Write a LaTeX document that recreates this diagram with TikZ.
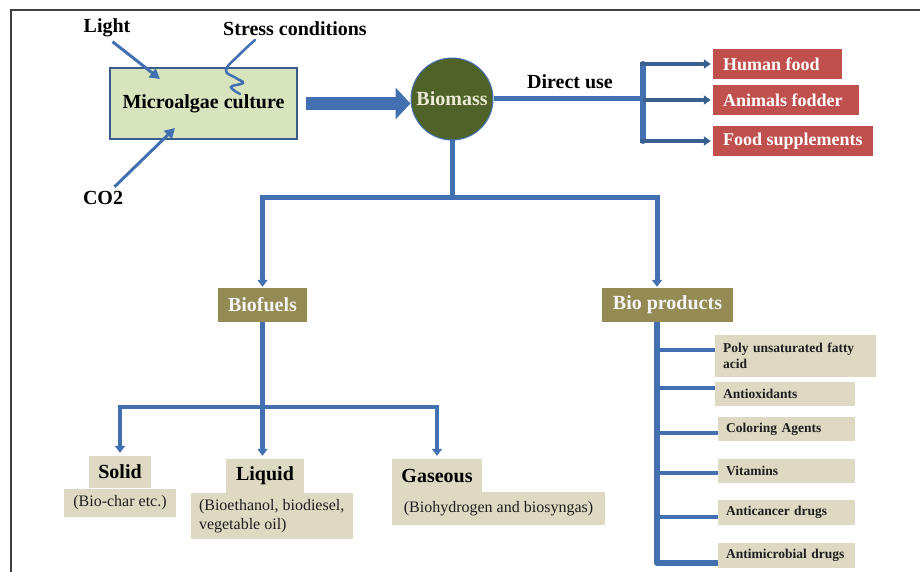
\documentclass[tikz,border=0pt]{standalone}
\usepackage{fontspec}
\setmainfont{Liberation Serif}
\usetikzlibrary{arrows.meta,calc}
\definecolor{lineblue}{RGB}{66,112,176}
\definecolor{darkblue}{RGB}{56,93,138}
\definecolor{mgreen}{RGB}{215,228,189}
\definecolor{bgreen}{RGB}{79,98,40}
\definecolor{cream}{RGB}{236,234,214}
\definecolor{rbox}{RGB}{192,80,77}
\definecolor{obox}{RGB}{148,138,84}
\definecolor{tbox}{RGB}{221,217,195}
\definecolor{framec}{RGB}{64,64,64}
\definecolor{txt}{RGB}{30,30,30}
\newcommand\myfs[2]{\fontsize{#1}{#2}\selectfont}
\newcommand\lbox[2]{\makebox[#1][l]{#2}}
\begin{document}
\begin{tikzpicture}[x=1pt,y=-1pt,
  lbl/.style={font=\bfseries\myfs{20}{22}, inner sep=0pt, text=black},
  redbox/.style={fill=rbox, text=white, font=\bfseries\myfs{18}{20}, inner xsep=10pt, inner ysep=0pt, minimum height=30pt},
  olivebox/.style={fill=obox, text=white!96!black, font=\bfseries\myfs{20}{22}, inner sep=0pt, minimum height=34pt},
  tanbox/.style={fill=tbox, inner ysep=0pt, text=txt},
  listbox/.style={fill=tbox, inner ysep=0pt, inner xsep=8pt, align=left, text=txt, font=\bfseries\myfs{13.5}{16}},
  thinarrow/.style={draw=lineblue, line width=3pt, -{Triangle[width=11pt,length=10pt]}},
  tree/.style={draw=lineblue, line width=5pt, line join=miter},
  tri/.tip={Triangle[width=10pt,length=7pt]},
  branch/.style={draw=darkblue!90!lineblue, line width=3.5pt, -{Triangle[width=9pt,length=7pt]}},
  pbranch/.style={draw=lineblue, line width=4pt}
]
\useasboundingbox (0,0) rectangle (920,572);
% frame
\draw[framec, line width=1.5pt] (11,572) -- (11,10) -- (920,10);

% top-left inputs
\node[lbl] (light) at (107,28) {Light};
\node[lbl] (stress) at (295,29) {Stress conditions};
\node[lbl] (co2) at (103,198) {CO2};
\node[draw=darkblue, line width=1.5pt, fill=mgreen, minimum width=187pt, minimum height=71pt,
      font=\bfseries\myfs{20}{22}, inner sep=0pt] (micro) at (203.5,103.5) {Microalgae culture};

\coordinate (lightend) at (160,79);
\coordinate (co2end) at (175,128);
\draw[thinarrow, shorten <=7pt] (light.south) -- (lightend);
\draw[thinarrow, shorten <=6pt] (co2) -- (co2end);
\draw[lineblue, line width=2.5pt, line cap=round]
  plot[smooth, tension=0.7] coordinates {(255,40) (240,54) (226,70) (236,78) (243,83) (231,87) (240,94)};

% biomass
\node[circle, fill=bgreen, draw=lineblue, line width=1pt, minimum size=82pt, inner sep=0pt,
      text=cream, font=\bfseries\myfs{20}{22}] (biomass) at (452,99) {Biomass};
\draw[lineblue, line width=13pt, -{Triangle[width=31pt,length=15pt]}]
  ([xshift=8pt]micro.east) -- (biomass.west |- micro.east);

% direct use
\node[lbl] (direct) at (570,82) {Direct use};
\node[redbox] (hf) at (777.5,64) {\lbox{109pt}{Human food}};
\node[redbox] (af) at (786,100) {\lbox{126pt}{Animals fodder}};
\node[redbox] (fs) at (793,141) {\lbox{140pt}{Food supplements}};
\coordinate (dj) at (643,99);
\draw[lineblue, line width=5pt] (biomass.east) -- (dj);
\draw[lineblue, line width=6pt, line cap=round] (dj |- hf.west) -- (dj |- fs.west);
\draw[branch, shorten >=2pt] ([xshift=-3pt]dj |- hf.west) -- (hf.west);
\draw[branch, shorten >=2pt] (dj |- af.west) -- (af.west);
\draw[branch, shorten >=2pt] ([xshift=-3pt]dj |- fs.west) -- (fs.west);

% level 2
\node[olivebox, minimum width=89pt] (biofuels) at (262.5,305) {Biofuels};
\node[olivebox, minimum width=131pt] (bioprod) at (667.5,305) {Bio products};
\coordinate (bpx) at (657,197);
\draw[tree] (biomass.south) -- (biomass.south |- bpx);
\draw[tree, tri-tri, shorten <=1pt, shorten >=1pt] (biofuels.north) |- (bpx) -- (bpx |- bioprod.north);

% biofuels children
\node[tanbox, minimum width=62pt, minimum height=32pt, font=\bfseries\myfs{20}{22}, text=black] (solid) at (120,472) {Solid};
\node[tanbox, minimum width=112pt, minimum height=28pt, font=\myfs{16}{19}] (solidsub) at (120,503) {(Bio-char etc.)};
\node[tanbox, minimum width=78pt, minimum height=34pt, font=\bfseries\myfs{20}{22}, text=black] (liquid) at (265,476) {Liquid};
\node[tanbox, minimum width=162pt, minimum height=46pt, inner xsep=8pt, font=\myfs{16}{19}] (liquidsub) at (272,516)
  {\parbox{146pt}{\raggedright\lbox{146pt}{(Bioethanol, biodiesel,}\\vegetable oil)}};
\node[tanbox, minimum width=90pt, minimum height=33pt, font=\bfseries\myfs{20}{22}, text=black] (gaseous) at (437,475.5) {Gaseous};
\node[tanbox, minimum width=213pt, minimum height=33pt, font=\myfs{16}{19}] (gassub) at (498.5,508.5) {(Biohydrogen and biosyngas)};
\coordinate (fj) at (262,407);
\draw[tree, line width=4.5pt, tri-tri, shorten <=3pt, shorten >=3pt] (solid.north) |- (fj) -| (gaseous.north);
\draw[tree, line width=4.5pt, -tri, shorten >=3pt] (biofuels.south) -- (biofuels.south |- liquid.north);

% bio products children
\node[listbox, text width=145pt, minimum height=42pt] (pufa) at (795.5,356) {Poly unsaturated fatty\\acid};
\node[listbox, text width=124pt, minimum height=24pt] (anti) at (785,394) {Antioxidants};
\node[listbox, text width=121pt, minimum height=24pt] (color) at (786.5,429) {Coloring Agents};
\node[listbox, text width=121pt, minimum height=24pt] (vit) at (786.5,471) {Vitamins};
\node[listbox, text width=121pt, minimum height=25pt] (canc) at (786.5,512.5) {Anticancer drugs};
\node[listbox, text width=121pt, minimum height=25pt] (micr) at (786.5,555.5) {Antimicrobial drugs};
\draw[tree, line width=5.5pt, line join=round] (bpx |- bioprod.south) -- ([yshift=-7.5pt]bpx |- micr.west) -- ([yshift=-7.5pt]micr.west);
\draw[pbranch] ([yshift=6pt]bpx |- pufa.west) -- ([yshift=6pt]pufa.west);
\draw[pbranch] ([yshift=6pt]bpx |- anti.west) -- ([yshift=6pt]anti.west);
\draw[pbranch] ([yshift=-4pt]bpx |- color.west) -- ([yshift=-4pt]color.west);
\draw[pbranch] ([yshift=-2pt]bpx |- vit.west) -- ([yshift=-2pt]vit.west);
\draw[pbranch] ([yshift=-4.5pt]bpx |- canc.west) -- ([yshift=-4.5pt]canc.west);
\end{tikzpicture}
\end{document}
